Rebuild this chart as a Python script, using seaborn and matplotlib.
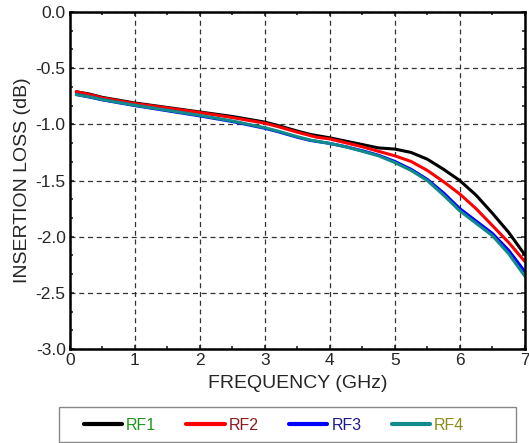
import numpy as np
import pandas as pd
import matplotlib
matplotlib.use("Agg")
import matplotlib.pyplot as plt
import seaborn as sns
from matplotlib.patches import Rectangle
from matplotlib.ticker import MultipleLocator, AutoMinorLocator

# frequency points (GHz) and insertion loss per channel (dB)
freq = [0.1, 0.3, 0.5, 1.0, 1.5, 2.0, 2.5, 3.0, 3.2, 3.5, 3.7, 3.8, 4.0, 4.25,
        4.5, 4.75, 5.0, 5.25, 5.5, 5.75, 6.0, 6.25, 6.5, 6.75, 7.0]
rf1 = [-0.71, -0.73, -0.76, -0.81, -0.85, -0.89, -0.93, -0.98, -1.01, -1.06,
       -1.09, -1.10, -1.12, -1.15, -1.18, -1.21, -1.22, -1.25, -1.31, -1.40,
       -1.50, -1.63, -1.79, -1.96, -2.16]
rf2 = [-0.71, -0.735, -0.765, -0.815, -0.855, -0.895, -0.94, -0.99, -1.02, -1.07,
       -1.10, -1.115, -1.13, -1.165, -1.20, -1.24, -1.28, -1.33, -1.41, -1.51,
       -1.62, -1.75, -1.90, -2.05, -2.22]
rf3 = [-0.735, -0.757, -0.782, -0.833, -0.879, -0.925, -0.975, -1.035, -1.065, -1.115,
       -1.143, -1.152, -1.17, -1.20, -1.235, -1.275, -1.33, -1.40, -1.49, -1.61,
       -1.75, -1.86, -1.97, -2.12, -2.31]
rf4 = [-0.735, -0.755, -0.78, -0.83, -0.875, -0.92, -0.97, -1.03, -1.06, -1.11,
       -1.14, -1.15, -1.17, -1.20, -1.24, -1.28, -1.34, -1.41, -1.50, -1.63,
       -1.77, -1.88, -1.99, -2.15, -2.35]

names = ["RF1", "RF2", "RF3", "RF4"]
line_colors = ["#000000", "#ff0000", "#0000ff", "#108a8a"]
text_colors = ["#1e961e", "#8c1a1a", "#1a1a8c", "#8c8c1a"]

df = pd.DataFrame({"freq": freq, "RF1": rf1, "RF2": rf2, "RF3": rf3, "RF4": rf4})
long = df.melt(id_vars="freq", var_name="port", value_name="loss")

sns.set_style("ticks")
plt.rcParams["font.family"] = ["Liberation Sans", "DejaVu Sans"]

fig = plt.figure(figsize=(5.29, 4.43), dpi=100)
ax = fig.add_axes([0.132, 0.212, 0.860, 0.761])

sns.lineplot(data=long, x="freq", y="loss", hue="port", hue_order=names,
             palette=line_colors, linewidth=2.2, ax=ax, legend=False)

ax.set_xlim(0, 7)
ax.set_ylim(-3.0, 0.0)
ax.xaxis.set_major_locator(MultipleLocator(1))
ax.xaxis.set_minor_locator(AutoMinorLocator(2))
ax.yaxis.set_major_locator(MultipleLocator(0.5))
ax.yaxis.set_minor_locator(AutoMinorLocator(3))
ax.set_yticklabels([f"{v:.1f}" for v in ax.get_yticks()])

ax.grid(True, which="major", color="#333333", linestyle=(0, (4, 3)), linewidth=0.9)
ax.tick_params(which="both", direction="in", top=True, right=True, labelsize=12.5,
               width=1.2, pad=3)
ax.tick_params(which="major", length=3)
ax.tick_params(which="minor", length=2.5)
for s in ax.spines.values():
    s.set_linewidth(1.8)
    s.set_color("black")

ax.set_xlabel("FREQUENCY (GHz)", fontsize=14, labelpad=5)
ax.set_ylabel("INSERTION LOSS (dB)", fontsize=14, labelpad=3)

# legend box below the axes
fig.patches.append(Rectangle((0.1115, 0.0023), 0.864, 0.079, transform=fig.transFigure,
                             facecolor="white", edgecolor="#888888", linewidth=1.0))
handles = [plt.Line2D([], [], color=c, linewidth=3) for c in line_colors]
leg = fig.legend(handles, names, loc="center", ncol=4,
                 bbox_to_anchor=(0.518, 0.040), frameon=False,
                 fontsize=11.5, handlelength=2.4, handletextpad=0.25,
                 borderaxespad=0, columnspacing=1.9)
for t, c in zip(leg.get_texts(), text_colors):
    t.set_color(c)

fig.savefig("out.png", dpi=100)
